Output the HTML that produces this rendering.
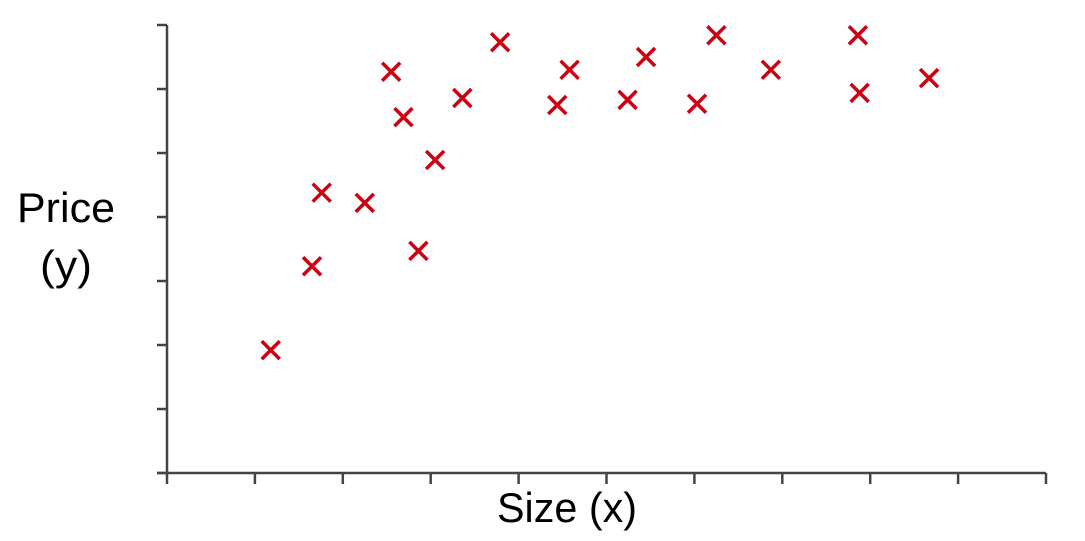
<!DOCTYPE html>
<html><head><meta charset="utf-8"><style>
html,body{margin:0;padding:0;background:#fff;}
svg{display:block;font-family:"Liberation Sans",sans-serif;}
</style></head><body>
<svg id="chart" width="1085" height="541" viewBox="0 0 1085 541">
<g id="axes"></g>
<g id="marks"></g>
<text x="17" y="222" font-size="42" textLength="98" lengthAdjust="spacingAndGlyphs" fill="#000">Price</text>
<text x="40" y="280" font-size="42" textLength="52" lengthAdjust="spacingAndGlyphs" fill="#000">(y)</text>
<text x="497" y="522" font-size="42" textLength="140" lengthAdjust="spacingAndGlyphs" fill="#000">Size (x)</text>
</svg>
<script>
const xValues=[1.18,1.65,1.76,2.25,2.55,2.69,2.86,3.05,3.36,3.79,4.44,4.58,5.24,5.45,6.03,6.25,6.87,7.86,7.88,8.67];
const yValues=[1.92,3.23,4.38,4.22,6.27,5.56,3.47,4.89,5.86,6.73,5.75,6.30,5.83,6.50,5.77,6.84,6.30,6.84,5.94,6.17];
const xTicks=[0,1,2,3,4,5,6,7,8,9,10];
const yTicks=[0,1,2,3,4,5,6,7];
const NS="http://www.w3.org/2000/svg";
const X0=167,X1=1046,Y0=473,Y1=25;
function sx(v){return X0+(v-0)/(10-0)*(X1-X0);}
function sy(v){return Y0-(v-0)/(7-0)*(Y0-Y1);}
function mk(tag,attrs){const e=document.createElementNS(NS,tag);for(const k in attrs)e.setAttribute(k,attrs[k]);return e;}
const axes=document.getElementById('axes');
const ac="#444";
let l=mk('line',{x1:X0,y1:Y1,x2:X0,y2:Y0,stroke:ac,'stroke-width':2.5});


axes.appendChild(l);
l=mk('line',{x1:X0-10,y1:Y0,x2:X1,y2:Y0,stroke:ac,'stroke-width':2.5});


axes.appendChild(l);
yTicks.forEach(t=>{const e=mk('line',{x1:X0-10,y1:sy(t),x2:X0,y2:sy(t),stroke:ac,'stroke-width':2.5});


axes.appendChild(e);});
xTicks.forEach(t=>{const e=mk('line',{x1:sx(t),y1:Y0,x2:sx(t),y2:Y0+11,stroke:ac,'stroke-width':2.5});


axes.appendChild(e);});
const marks=document.getElementById('marks');
const r=9;
xValues.forEach((v,i)=>{const cx=sx(v),cy=sy(yValues[i]);
const p=mk('path',{d:`M${cx-r},${cy-r}L${cx+r},${cy+r}M${cx+r},${cy-r}L${cx-r},${cy+r}`,stroke:'#cc0011','stroke-width':3.5,fill:'none'});


marks.appendChild(p);});
</script>
</body></html>
